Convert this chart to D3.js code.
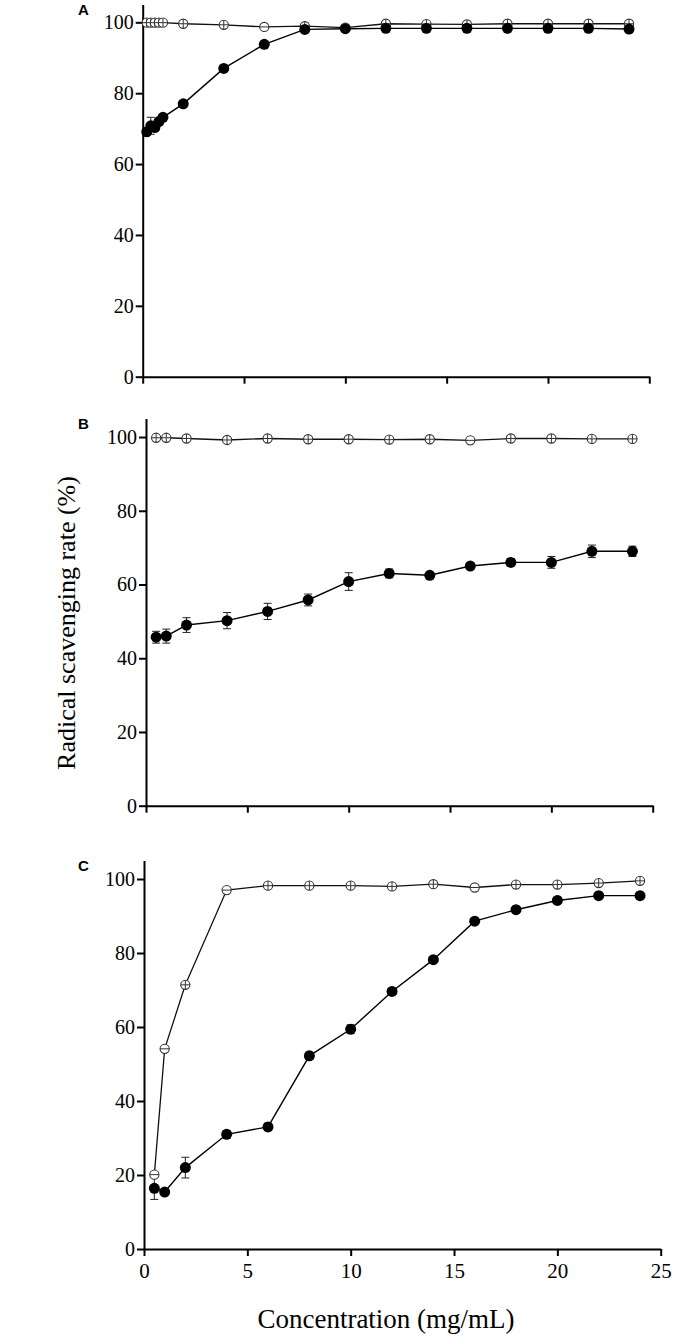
<!DOCTYPE html>
<html lang="en">
<head>
  <meta charset="UTF-8">
  <title>Radical scavenging rate</title>
  <style>
    body { margin: 0; background: #fff; }
    svg text { font-family: "Liberation Serif", "Times New Roman", serif; fill: #000; }
    .axis path, .axis line { stroke: #000; stroke-width: 2px; }
    .panel-letter { font-family: "Liberation Sans", Arial, sans-serif !important; font-weight: bold; font-size: 15px; }
  </style>
</head>
<body>
<svg id="chart" width="676" height="1339"></svg>

<script src="https://cdn.jsdelivr.net/npm/d3@7"></script>
<script>
  "use strict";

  // tick labels
  var xTicks = [0, 5, 10, 15, 20, 25];
  var yTicks = [0, 20, 40, 60, 80, 100];

  // panel A
  var concA = [0.2, 0.4, 0.6, 0.8, 1, 2, 4, 6, 8, 10, 12, 14, 16, 18, 20, 22, 24];
  var filledA = [69.1, 70.8, 70.3, 72.0, 73.2, 77.0, 87.0, 93.8, 98.0, 98.2, 98.3, 98.3, 98.3, 98.3, 98.3, 98.3, 98.1];
  var filledErrA = [0.5, 2.4, 0.8, 0.5, 0.5, 0.4, 0.4, 0.4, 0.4, 0.4, 0.3, 0.3, 0.3, 0.3, 0.3, 0.3, 1.0];
  var openA = [99.9, 99.9, 99.9, 99.9, 99.9, 99.6, 99.3, 98.7, 98.9, 98.5, 99.6, 99.5, 99.4, 99.6, 99.6, 99.6, 99.6];
  var openErrA = [1.2, 1.2, 1.2, 1.2, 1.2, 1.2, 1.2, 0, 1.2, 1.2, 1.2, 1.2, 1.2, 1.2, 1.2, 1.2, 1.2];

  // panel B
  var concB = [0.5, 1, 2, 4, 6, 8, 10, 12, 14, 16, 18, 20, 22, 24];
  var filledB = [45.7, 46.0, 49.0, 50.2, 52.7, 55.8, 60.8, 63.0, 62.5, 65.0, 66.0, 66.0, 69.0, 69.0];
  var filledErrB = [1.6, 1.9, 2.0, 2.2, 2.2, 1.6, 2.4, 1.2, 0.5, 0.6, 1.0, 1.6, 1.7, 1.4];
  var openB = [99.8, 99.8, 99.6, 99.2, 99.6, 99.4, 99.4, 99.3, 99.4, 99.1, 99.6, 99.6, 99.5, 99.5];
  var openErrB = [1.2, 1.2, 1.2, 1.2, 1.2, 1.2, 1.2, 1.2, 1.2, 0, 1.2, 1.2, 1.2, 1.2];

  // panel C
  var concC = [0.5, 1, 2, 4, 6, 8, 10, 12, 14, 16, 18, 20, 22, 24];
  var filledC = [16.4, 15.4, 22.0, 31.0, 33.0, 52.2, 59.4, 69.6, 78.2, 88.6, 91.7, 94.2, 95.5, 95.5];
  var filledErrC = [3.0, 0.5, 2.8, 1.0, 1.0, 1.0, 1.2, 0.6, 0.5, 0.5, 0.6, 0.6, 0.5, 0.5];
  var openC = [20.1, 54.1, 71.4, 97.0, 98.2, 98.2, 98.2, 98.0, 98.6, 97.7, 98.5, 98.5, 98.9, 99.5];
  var openErrC = [0, 0, 1.2, 0, 1.2, 1.2, 1.2, 1.2, 1.2, 0, 1.2, 1.2, 1.2, 1.2];

  var svg = d3.select("#chart");

  var panels = [
    {letter: "A", conc: concA, filled: filledA, filledErr: filledErrA, open: openA, openErr: openErrA,
     x0: 142.7, x1: 649.3, y0: 376.7, y1: 4.6, labels: false},
    {letter: "B", conc: concB, filled: filledB, filledErr: filledErrB, open: openB, openErr: openErrB,
     x0: 146, x1: 652.7, y0: 805.7, y1: 418.6, labels: false},
    {letter: "C", conc: concC, filled: filledC, filledErr: filledErrC, open: openC, openErr: openErrC,
     x0: 144, x1: 660.7, y0: 1249, y1: 860.5, labels: true}
  ];

  panels.forEach(function(p){
    var x = d3.scaleLinear().domain([0, 25]).range([p.x0, p.x1]);
    var y = d3.scaleLinear().domain([0, 105]).range([p.y0, p.y1]);
    var g = svg.append("g");

    var xAxis = d3.axisBottom(x).tickValues(xTicks).tickSize(7).tickPadding(7).tickSizeOuter(0);
    if (!p.labels) xAxis.tickFormat("");
    g.append("g").attr("class", "axis").attr("transform", "translate(0," + p.y0 + ")")
      .call(xAxis)
      .selectAll("text").style("font-size", "21px");

    g.append("g").attr("class", "axis").attr("transform", "translate(" + p.x0 + ",0)")
      .call(d3.axisLeft(y).tickValues(yTicks).tickSize(7).tickPadding(2).tickSizeOuter(0))
      .selectAll("text").style("font-size", "20px");

    g.append("text").attr("class", "panel-letter")
      .attr("x", 78).attr("y", p.y1 + 10)
      .text(p.letter);

    var line = d3.line()
      .x(function(d){ return x(d[0]); })
      .y(function(d){ return y(d[1]); });

    var filledPts = p.conc.map(function(c, i){ return [c, p.filled[i], p.filledErr[i]]; });
    var openPts = p.conc.map(function(c, i){ return [c, p.open[i], p.openErr[i]]; });

    g.append("path").datum(filledPts).attr("d", line)
      .attr("fill", "none").attr("stroke", "#000").attr("stroke-width", 1.4);
    g.append("path").datum(openPts).attr("d", line)
      .attr("fill", "none").attr("stroke", "#111").attr("stroke-width", 1.3);

    // error bars, filled series
    var eb = g.selectAll(".eb").data(filledPts).enter().append("g");
    eb.append("line")
      .attr("x1", function(d){ return x(d[0]); }).attr("x2", function(d){ return x(d[0]); })
      .attr("y1", function(d){ return y(d[1] - d[2]); }).attr("y2", function(d){ return y(d[1] + d[2]); })
      .attr("stroke", "#222").attr("stroke-width", 1);
    [-1, 1].forEach(function(s){
      eb.append("line")
        .attr("x1", function(d){ return x(d[0]) - 4; }).attr("x2", function(d){ return x(d[0]) + 4; })
        .attr("y1", function(d){ return y(d[1] + s * d[2]); }).attr("y2", function(d){ return y(d[1] + s * d[2]); })
        .attr("stroke", "#222").attr("stroke-width", 1);
    });

    // open markers with cross
    var om = g.selectAll(".om").data(openPts).enter().append("g")
      .attr("transform", function(d){ return "translate(" + x(d[0]) + "," + y(d[1]) + ")"; });
    om.append("circle").attr("r", 4.6).attr("fill", "#fff").attr("stroke", "#333").attr("stroke-width", 1.1);
    om.append("line").attr("x1", -4.6).attr("x2", 4.6).attr("y1", 0).attr("y2", 0)
      .attr("stroke", "#333").attr("stroke-width", 1);
    om.append("line").attr("x1", 0).attr("x2", 0)
      .attr("y1", function(d){ return y(d[1] + d[2]) - y(d[1]); })
      .attr("y2", function(d){ return y(d[1] - d[2]) - y(d[1]); })
      .attr("stroke", "#333").attr("stroke-width", 1);

    // filled markers
    g.selectAll(".fm").data(filledPts).enter().append("circle")
      .attr("cx", function(d){ return x(d[0]); })
      .attr("cy", function(d){ return y(d[1]); })
      .attr("r", 5.5).attr("fill", "#000");
  });

  svg.append("text")
    .attr("x", 386).attr("y", 1328)
    .attr("text-anchor", "middle").style("font-size", "27px")
    .text("Concentration (mg/mL)");

  svg.append("text")
    .attr("transform", "translate(75,623) rotate(-90)")
    .attr("text-anchor", "middle").style("font-size", "26px")
    .text("Radical scavenging rate (%)");
</script>
</body>
</html>
